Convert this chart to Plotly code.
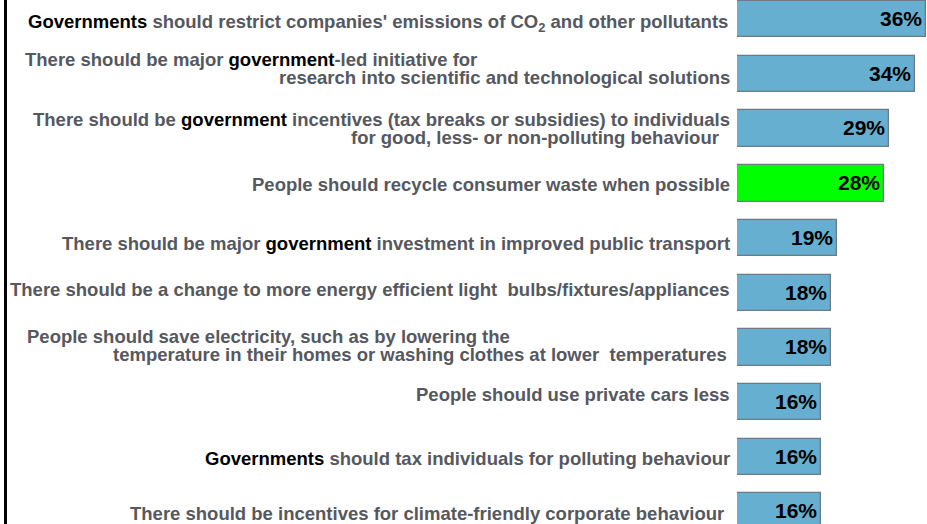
import re
import plotly.graph_objects as go

# ---------------- data ----------------
labels = [
    "[Governments] should restrict companies' emissions of CO<sub>2</sub> and other pollutants",
    "There should be major [government]-led initiative for|research into scientific and technological solutions",
    "There should be [government] incentives (tax breaks or subsidies) to individuals|for good, less- or non-polluting behaviour",
    "People should recycle consumer waste when possible",
    "There should be major [government] investment in improved public transport",
    "There should be a change to more energy efficient light\u00a0 bulbs/fixtures/appliances",
    "People should save electricity, such as by lowering the|temperature in their homes or washing clothes at lower\u00a0 temperatures",
    "People should use private cars less",
    "[Governments] should tax individuals for polluting behaviour",
    "There should be incentives for climate-friendly corporate behaviour",
]
values = [36, 34, 29, 28, 19, 18, 18, 16, 16, 16]
highlight = [False, False, False, True, False, False, False, False, False, False]

# ---------------- styling / layout ----------------
W, H = 927, 524
BAR_BLUE = "#66AFD1"
BAR_GREEN = "#00FF00"
OUTLINE = "#6E7A84"
GRAY = "#55585F"
FONT = "Liberation Sans, Arial, sans-serif"
LABEL_SIZE = 18.5

x0_px = 737          # pixel where 0% sits
px_per_pct = 5.245
pitch = 54.7         # pixels per row
first_center = 19.25

# per-line vertical fine offsets (pixels, + = down) and x anchors
line_dy = [[3.7], [-14.4, 3.6], [-9.1, 8.9], [1.6], [5.5], [-2.8],
           [-10.9, 7.1], [-7.2], [1.6], [1.9]]
left_start = {(1, 0): 23, (6, 0): 25}
right_shift = {(2, 1): -11, (9, 0): -6, (0, 0): -2, (6, 1): -3}
RIGHT_EDGE = 732


def fmt(s):
    return re.sub(r"\[([^\]]+)\]", r"<span style='color:#000000'>\1</span>", s)


n = len(values)
ys = list(range(n))
colors = [BAR_GREEN if h else BAR_BLUE for h in highlight]

fig = go.Figure(go.Bar(
    x=values, y=ys, orientation="h",
    marker=dict(color=colors, line=dict(color=OUTLINE, width=1.3)),
    width=0.667,
    text=[f"{v}%" for v in values],
    textposition="inside", insidetextanchor="end",
    textfont=dict(family=FONT, size=21, color="#000000", weight="bold"),
    cliponaxis=False,
    hoverinfo="skip",
))

annotations = []
for i, lab in enumerate(labels):
    lines = lab.split("|")
    for j, ln in enumerate(lines):
        dy = line_dy[i][j]
        if (i, j) in left_start:
            x = left_start[(i, j)] / W
            xanchor = "left"
            xshift = 0
        else:
            x = RIGHT_EDGE / W
            xanchor = "right"
            xshift = right_shift.get((i, j), 0)
        annotations.append(dict(
            x=x, xref="paper", y=i, yref="y",
            xanchor=xanchor, yanchor="middle",
            text=fmt(ln),
            showarrow=False, xshift=xshift, yshift=-dy,
            font=dict(family=FONT, size=LABEL_SIZE, color=GRAY, weight="bold"),
        ))

span_units = H / pitch
top = -first_center / pitch

fig.update_layout(
    width=W, height=H,
    margin=dict(l=0, r=0, t=0, b=0),
    paper_bgcolor="white", plot_bgcolor="white",
    showlegend=False,
    xaxis=dict(domain=[x0_px / W, 1], range=[0, (W - x0_px) / px_per_pct],
               visible=False, fixedrange=True),
    yaxis=dict(range=[top + span_units, top], visible=False, fixedrange=True),
    annotations=annotations,
    shapes=[dict(type="line", xref="paper", yref="paper",
                 x0=5.5 / W, x1=5.5 / W, y0=0, y1=1,
                 line=dict(color="#000000", width=3))],
    bargap=0,
)

fig.write_html("out.html", config={"displayModeBar": False},
               post_script="document.body.style.margin='0';document.body.style.overflow='hidden';")
